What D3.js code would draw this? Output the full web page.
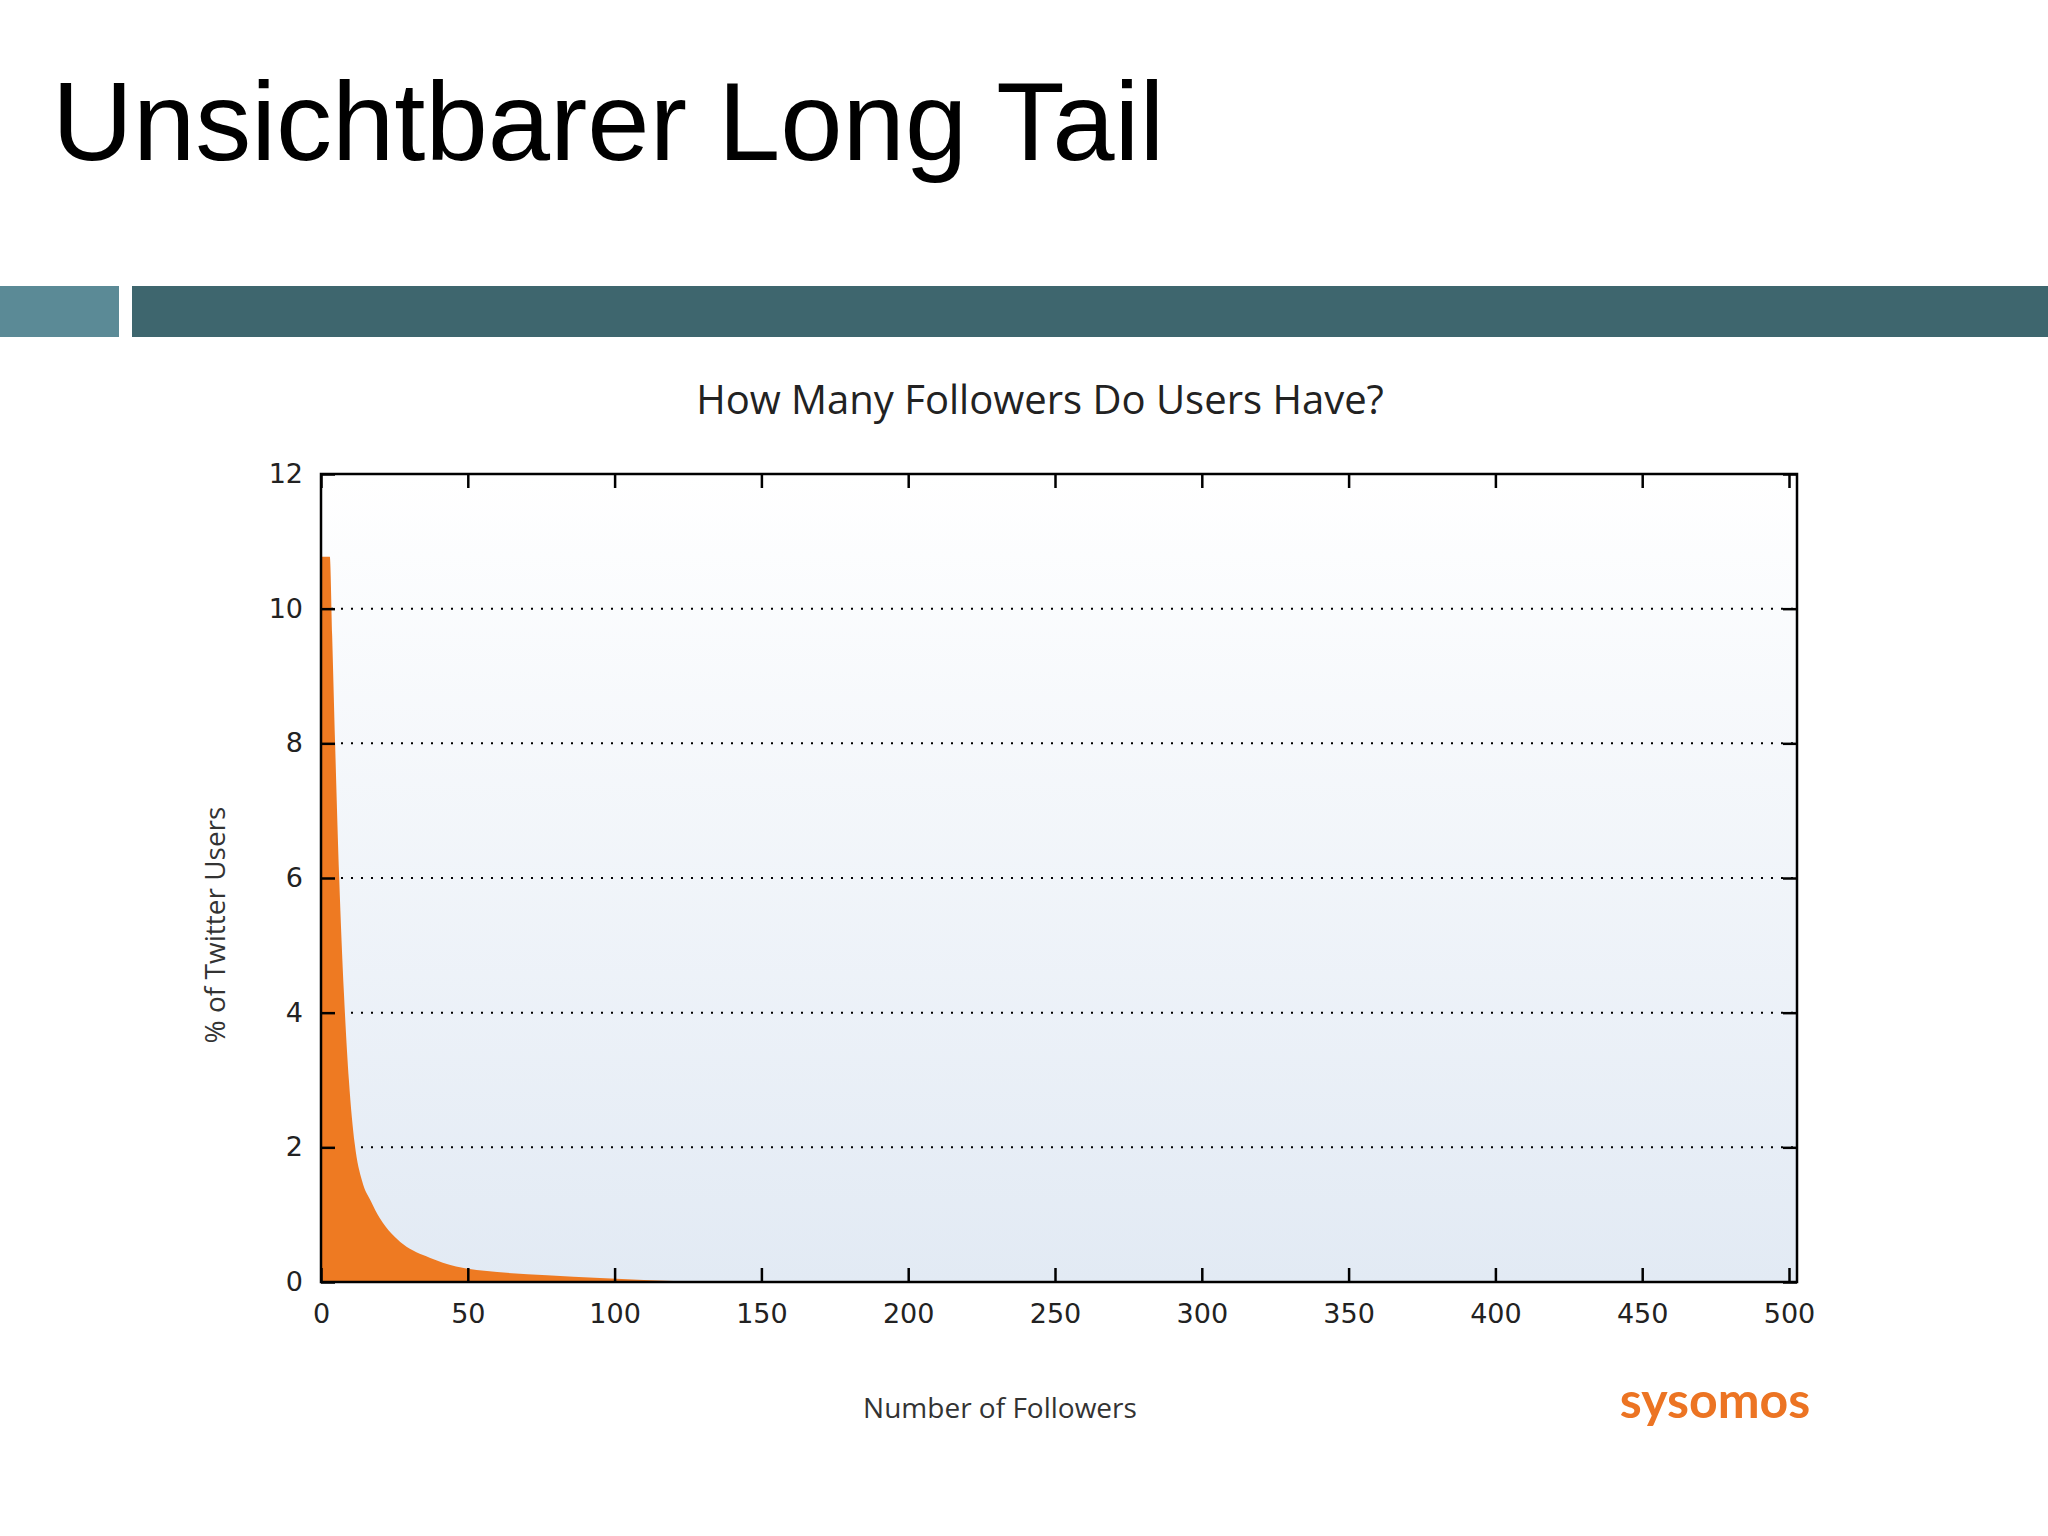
<!DOCTYPE html><html><head><meta charset="utf-8">
<script src="https://cdn.jsdelivr.net/npm/d3@7"></script>
<style>body{margin:0;background:#fff}</style></head><body>
<svg id="c" width="2048" height="1536"></svg>
<script>
const followers = [0, 3, 3.8, 4.8, 6.2, 7.8, 9.5, 11.5, 14, 17, 20, 24, 28, 37, 46, 60, 77, 95, 110, 130, 200, 300, 400, 500];
const percentUsers = [10.77, 10.77, 9.6, 8.0, 6.0, 4.3, 3.0, 2.05, 1.5, 1.2, 0.95, 0.72, 0.56, 0.36, 0.23, 0.15, 0.1, 0.06, 0.03, 0.01, 0.01, 0.01, 0.01, 0.01];
const xTicks = [0,50,100,150,200,250,300,350,400,450,500];
const yTicks = [0,2,4,6,8,10,12];

const svg = d3.select("#c");
svg.append("text").attr("x",52).attr("y",160).attr("font-family","Liberation Sans, Arial").attr("font-size",112).text("Unsichtbarer Long Tail");
svg.append("rect").attr("x",0).attr("y",286).attr("width",119).attr("height",51).attr("fill","#5b8a96");
svg.append("rect").attr("x",132).attr("y",286).attr("width",1916).attr("height",51).attr("fill","#3e666e");

const L=321,R=1797,T=474,B=1282;
const x=d3.scaleLinear().domain([0,500]).range([L,1789]);
const y=d3.scaleLinear().domain([0,12]).range([B,T]);
const defs=svg.append("defs");
const g=defs.append("linearGradient").attr("id","bg").attr("x1",0).attr("y1",0).attr("x2",0).attr("y2",1);
g.append("stop").attr("offset",0).attr("stop-color","#ffffff");
g.append("stop").attr("offset",1).attr("stop-color","#e2eaf4");
svg.append("rect").attr("x",L).attr("y",T).attr("width",R-L).attr("height",B-T).attr("fill","url(#bg)");

svg.selectAll(".grid").data(yTicks.filter(d=>d>0&&d<12)).join("line")
 .attr("x1",L).attr("x2",R).attr("y1",d=>y(d)).attr("y2",d=>y(d))
 .attr("stroke","#000").attr("stroke-width",2).attr("stroke-dasharray","2,8");

const area=d3.area().x((d,i)=>x(followers[i])).y0(y(0)).y1(d=>y(d)).curve(d3.curveMonotoneX);
svg.append("path").datum(percentUsers).attr("d",area).attr("fill","#ee7a22");

svg.append("rect").attr("x",L).attr("y",T).attr("width",R-L).attr("height",B-T).attr("fill","none").attr("stroke","#000").attr("stroke-width",2.5);

const font="DejaVu Sans, sans-serif";
const xb=svg.append("g").attr("transform",`translate(0,${B})`).call(d3.axisBottom(x).tickValues(xTicks).tickSizeInner(-14).tickSizeOuter(0).tickPadding(22));
const xt=svg.append("g").attr("transform",`translate(0,${T})`).call(d3.axisTop(x).tickValues(xTicks).tickSizeInner(-14).tickSizeOuter(0).tickFormat(""));
const yl=svg.append("g").attr("transform",`translate(${L},0)`).call(d3.axisLeft(y).tickValues(yTicks).tickSizeInner(-14).tickSizeOuter(0).tickPadding(18));
const yr=svg.append("g").attr("transform",`translate(${R},0)`).call(d3.axisRight(y).tickValues(yTicks).tickSizeInner(-14).tickSizeOuter(0).tickFormat(""));
[xb,xt,yl,yr].forEach(a=>{a.select(".domain").remove();a.selectAll("line").attr("stroke","#000").attr("stroke-width",2.5);a.selectAll("text").attr("font-family",font).attr("font-size",27).attr("fill","#222");});

svg.append("text").attr("x",1040).attr("y",414).attr("text-anchor","middle").attr("font-family","Open Sans, sans-serif").attr("font-size",40).attr("fill","#222").text("How Many Followers Do Users Have?");
svg.append("text").attr("x",1000).attr("y",1418).attr("text-anchor","middle").attr("font-family","Open Sans, sans-serif").attr("font-size",28).attr("fill","#333").text("Number of Followers");
svg.append("text").attr("transform","translate(225,925) rotate(-90)").attr("text-anchor","middle").attr("font-family","Open Sans, sans-serif").attr("font-size",28).attr("fill","#333").text("% of Twitter Users");
svg.append("text").attr("x",1715).attr("y",1418).attr("text-anchor","middle").attr("font-family","Lato, sans-serif").attr("font-weight","bold").attr("font-size",50).attr("fill","#ec7423").text("sysomos");
</script></body></html>
